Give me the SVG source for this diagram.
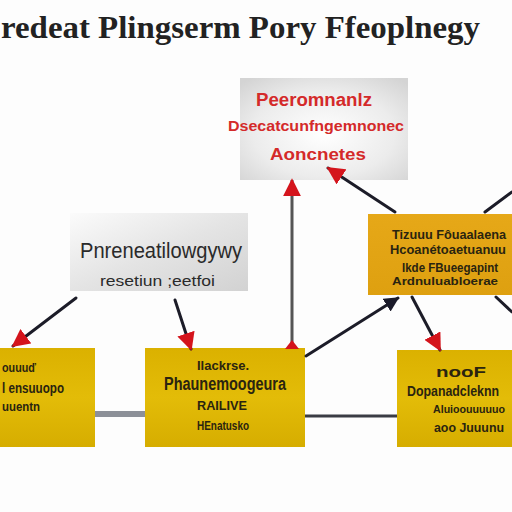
<svg xmlns="http://www.w3.org/2000/svg" width="512" height="512" viewBox="0 0 512 512">
<defs>
<linearGradient id="gGray" x1="0" y1="0" x2="1" y2="1">
<stop offset="0" stop-color="#fbfbfb"/><stop offset="0.5" stop-color="#e4e4e4"/><stop offset="1" stop-color="#d2d2d2"/>
</linearGradient>
<radialGradient id="gTop" cx="0.5" cy="0.55" r="0.7">
<stop offset="0" stop-color="#ffffff"/><stop offset="0.6" stop-color="#ececec"/><stop offset="1" stop-color="#d4d4d4"/>
</radialGradient>
<linearGradient id="gYel" x1="0" y1="0" x2="0" y2="1">
<stop offset="0" stop-color="#dbb100"/><stop offset="0.5" stop-color="#e3bc08"/><stop offset="1" stop-color="#d6ad00"/>
</linearGradient>
<linearGradient id="gOr" x1="0" y1="0" x2="0" y2="1">
<stop offset="0" stop-color="#e6a818"/><stop offset="1" stop-color="#dea010"/>
</linearGradient>
<marker id="aRed" viewBox="0 0 10 10" refX="9" refY="5" markerWidth="6" markerHeight="6" orient="auto">
<path d="M0,0 L10,5 L0,10 z" fill="#d4141c"/>
</marker>
<marker id="aDark" viewBox="0 0 10 10" refX="9" refY="5" markerWidth="5" markerHeight="5" orient="auto">
<path d="M0,0 L10,5 L0,10 z" fill="#1a1a2a"/>
</marker>
</defs>
<style>
.title{font-family:"Liberation Serif","DejaVu Serif",serif;font-weight:bold;font-size:31px;fill:#222}
.red{font-family:"Liberation Sans",Arial,sans-serif;font-weight:bold;fill:#d42a2a}
.dk{font-family:"Liberation Sans",Arial,sans-serif;font-weight:bold;fill:#2a2410}
.gr{font-family:"Liberation Sans",Arial,sans-serif;fill:#2a2a2a}
.ln{stroke:#1c1c28;stroke-width:3;fill:none;stroke-linecap:round}
</style>
<rect width="512" height="512" fill="#fdfdfd"/>
<text class="title" x="1" y="38" textLength="479" lengthAdjust="spacingAndGlyphs">redeat Plingserm Pory Ffeoplnegy</text>

<g id="nodeTop">
<rect x="240" y="78" width="168" height="102" fill="url(#gTop)"/>
<text class="red" x="256" y="106" font-size="18" textLength="116" lengthAdjust="spacingAndGlyphs">Peeromnanlz</text>
<text class="red" x="228" y="131" font-size="14" textLength="176" lengthAdjust="spacingAndGlyphs">Dsecatcunfngemnonec</text>
<text class="red" x="270" y="160" font-size="17" textLength="96" lengthAdjust="spacingAndGlyphs">Aoncnetes</text>
</g>

<g id="nodeGray">
<rect x="70" y="213" width="178" height="78" fill="url(#gGray)"/>
<text class="gr" x="80" y="258" font-size="22" textLength="162" lengthAdjust="spacingAndGlyphs">Pnreneatilowgywy</text>
<text class="gr" x="100" y="286" font-size="15" textLength="115" lengthAdjust="spacingAndGlyphs">resetiun ;eetfoi</text>
</g>

<g id="nodeOrange">
<rect x="368" y="214" width="144" height="81" fill="url(#gOr)"/>
<text class="dk" x="392" y="239" font-size="12" textLength="114" lengthAdjust="spacingAndGlyphs">Tizuuu Fôuaalaena</text>
<text class="dk" x="390" y="254" font-size="12" textLength="116" lengthAdjust="spacingAndGlyphs">Hcoanétoaetuanuu</text>
<text class="dk" x="402" y="272" font-size="12" textLength="96" lengthAdjust="spacingAndGlyphs">Ikde FBueegapint</text>
<text class="dk" x="392" y="285" font-size="11" textLength="106" lengthAdjust="spacingAndGlyphs">Ardnuluabloerae</text>
</g>

<g id="nodeLeft">
<rect x="0" y="348" width="95" height="99" fill="url(#gYel)"/>
<text class="dk" x="2" y="372" font-size="13" textLength="34" lengthAdjust="spacingAndGlyphs">ouuuď</text>
<text class="dk" x="2" y="393" font-size="14" textLength="62" lengthAdjust="spacingAndGlyphs">l ensuuopo</text>
<text class="dk" x="2" y="411" font-size="13" textLength="38" lengthAdjust="spacingAndGlyphs">uuentn</text>
</g>

<g id="nodeMid">
<rect x="145" y="348" width="160" height="99" fill="url(#gYel)"/>
<text class="dk" x="197" y="370" font-size="12" textLength="52" lengthAdjust="spacingAndGlyphs">Ilackrse.</text>
<text class="dk" x="164" y="390" font-size="18" textLength="122" lengthAdjust="spacingAndGlyphs">Phaunemoogeura</text>
<text class="dk" x="197" y="410" font-size="13" textLength="50" lengthAdjust="spacingAndGlyphs">RAILIVE</text>
<text class="dk" x="197" y="430" font-size="13" textLength="52" lengthAdjust="spacingAndGlyphs">HEnatusko</text>
</g>

<g id="nodeRight">
<rect x="397" y="350" width="115" height="97" fill="url(#gYel)"/>
<text class="dk" x="436" y="377" font-size="14" textLength="50" lengthAdjust="spacingAndGlyphs">nooF</text>
<text class="dk" x="407" y="396" font-size="14" textLength="92" lengthAdjust="spacingAndGlyphs">Dopanadcleknn</text>
<text class="dk" x="433" y="413" font-size="11" textLength="72" lengthAdjust="spacingAndGlyphs">Aluioouuuuuo</text>
<text class="dk" x="434" y="432" font-size="12" textLength="70" lengthAdjust="spacingAndGlyphs">aoo Juuunu</text>
</g>

<g id="connectors">
<line x1="95" y1="414" x2="145" y2="414" stroke="#8c9098" stroke-width="6"/>
<line x1="305" y1="416" x2="397" y2="416" stroke="#3a3c44" stroke-width="3"/>
<line x1="292" y1="346" x2="292" y2="180" stroke="#555" stroke-width="3" marker-end="url(#aRed)"/>
<path d="M285,349 L299,349 L292,340 z" fill="#d4141c"/>
<line class="ln" x1="395" y1="212" x2="328" y2="168" marker-end="url(#aRed)"/>
<line class="ln" x1="485" y1="212" x2="512" y2="192"/>
<line class="ln" x1="306" y1="356" x2="398" y2="298" marker-end="url(#aDark)"/>
<line class="ln" x1="412" y1="297" x2="440" y2="350" marker-end="url(#aRed)"/>
<line class="ln" x1="496" y1="297" x2="512" y2="312"/>
<line class="ln" x1="76" y1="298" x2="13" y2="346" marker-end="url(#aRed)"/>
<line class="ln" x1="175" y1="300" x2="191" y2="349" marker-end="url(#aRed)"/>
</g>
</svg>
